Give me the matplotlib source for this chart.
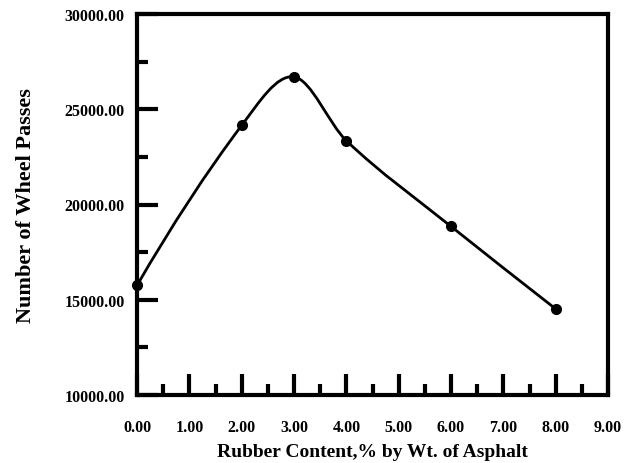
import numpy as np
import matplotlib.pyplot as plt
from matplotlib.path import Path
from matplotlib.patches import PathPatch
from matplotlib.ticker import MultipleLocator, FormatStrFormatter

rubber_content = [0.0, 2.0, 3.0, 4.0, 6.0, 8.0]
wheel_passes = [15750, 24150, 26700, 23350, 18850, 14520]

plt.rcParams['font.family'] = ['Liberation Serif', 'DejaVu Serif']
plt.rcParams['font.weight'] = 'bold'


def smooth_path(xs, ys):
    """Cubic Bezier path through the points (Catmull-Rom slopes)."""
    x = np.asarray(xs, float)
    y = np.asarray(ys, float)
    n = len(x)
    d = np.diff(y) / np.diff(x)
    s = np.zeros(n)
    s[1:-1] = (y[2:] - y[:-2]) / (x[2:] - x[:-2])
    s[0] = 2 * d[0] - s[1]
    s[-1] = d[-1]
    verts = [(x[0], y[0])]
    codes = [Path.MOVETO]
    for i in range(n - 1):
        h = x[i + 1] - x[i]
        verts += [(x[i] + h / 3, y[i] + s[i] * h / 3),
                  (x[i + 1] - h / 3, y[i + 1] - s[i + 1] * h / 3),
                  (x[i + 1], y[i + 1])]
        codes += [Path.CURVE4] * 3
    return Path(verts, codes)


fig = plt.figure(figsize=(6.25, 4.64), dpi=100)
ax = fig.add_axes([137 / 625, 1 - 396 / 464, 471 / 625, 381 / 464])

ax.add_patch(PathPatch(smooth_path(rubber_content, wheel_passes),
                       facecolor='none', edgecolor='black', lw=2,
                       clip_on=False))
ax.plot(rubber_content, wheel_passes, 'o', color='black', ms=7,
        clip_on=False, zorder=3)

ax.set_xlim(0, 9)
ax.set_ylim(10000, 30000)
ax.xaxis.set_major_locator(MultipleLocator(1))
ax.xaxis.set_minor_locator(MultipleLocator(0.5))
ax.yaxis.set_major_locator(MultipleLocator(5000))
ax.yaxis.set_minor_locator(MultipleLocator(2500))
ax.xaxis.set_major_formatter(FormatStrFormatter('%.2f'))
ax.yaxis.set_major_formatter(FormatStrFormatter('%.2f'))

ax.tick_params(which='both', direction='in', width=3, color='black',
               top=False, right=False, labelsize=11.5)
ax.tick_params(which='major', length=15)
ax.tick_params(which='minor', length=8)
ax.tick_params(axis='x', which='major', pad=17)
ax.tick_params(axis='y', which='major', pad=9)

for side in ['left', 'bottom', 'top', 'right']:
    ax.spines[side].set_linewidth(3)

ax.set_xlabel('Rubber Content,% by Wt. of Asphalt', fontsize=14,
              fontweight='bold', labelpad=6)
ax.set_ylabel('Number of Wheel Passes', fontsize=16, fontweight='bold',
              labelpad=20)

fig.savefig('out.png', dpi=100)
